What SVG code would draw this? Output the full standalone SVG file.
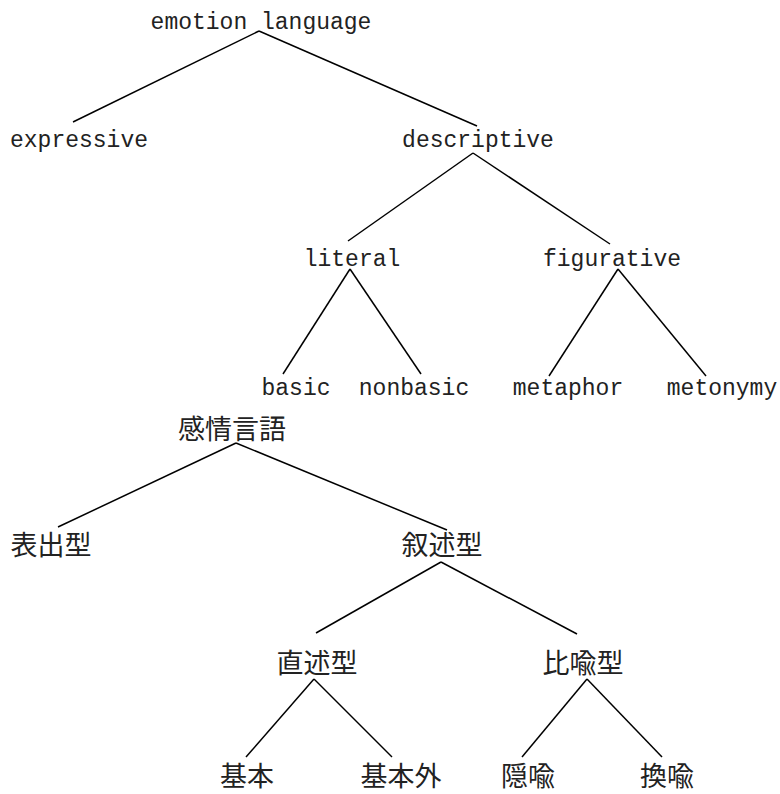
<svg xmlns="http://www.w3.org/2000/svg" width="780" height="794" viewBox="0 0 780 794">
<style>
.en{font-family:"Liberation Mono","DejaVu Sans Mono",monospace;font-size:23px;fill:#222;text-anchor:middle}
.ja{font-family:"Noto Sans CJK JP","Noto Sans CJK SC",sans-serif;font-size:27px;fill:#222;text-anchor:middle}
#connectors line{stroke:#000;stroke-width:1.5;fill:none}
</style>
<rect width="780" height="794" fill="#fff"/>
<g id="connectors">
<line x1="259" y1="31" x2="73" y2="122"/>
<line x1="259" y1="31" x2="477" y2="126"/>
<line x1="473" y1="153" x2="348" y2="241"/>
<line x1="473" y1="153" x2="610" y2="244"/>
<line x1="350" y1="269" x2="283" y2="374"/>
<line x1="350" y1="269" x2="421" y2="374"/>
<line x1="618" y1="269" x2="549" y2="376"/>
<line x1="618" y1="269" x2="706" y2="376"/>
<line x1="236" y1="443" x2="58" y2="527"/>
<line x1="236" y1="443" x2="447" y2="530"/>
<line x1="441" y1="562" x2="316" y2="633"/>
<line x1="441" y1="562" x2="577" y2="634"/>
<line x1="314" y1="679" x2="246" y2="757"/>
<line x1="314" y1="679" x2="392" y2="757"/>
<line x1="587" y1="679" x2="522" y2="757"/>
<line x1="587" y1="679" x2="662" y2="757"/>
</g>
<g id="n-emotion-language"><text class="en" x="261" y="29">emotion language</text></g>
<g id="n-expressive"><text class="en" x="79" y="147">expressive</text></g>
<g id="n-descriptive"><text class="en" x="478" y="147">descriptive</text></g>
<g id="n-literal"><text class="en" x="352" y="266">literal</text></g>
<g id="n-figurative"><text class="en" x="612" y="266">figurative</text></g>
<g id="n-basic"><text class="en" x="296" y="395">basic</text></g>
<g id="n-nonbasic"><text class="en" x="414" y="395">nonbasic</text></g>
<g id="n-metaphor"><text class="en" x="568" y="395">metaphor</text></g>
<g id="n-metonymy"><text class="en" x="722" y="395">metonymy</text></g>
<g id="n-kanjo-gengo"><text class="ja" x="232" y="439">感情言語</text></g>
<g id="n-hyoshutsu"><text class="ja" x="51" y="555">表出型</text></g>
<g id="n-jojutsu"><text class="ja" x="442" y="555">叙述型</text></g>
<g id="n-chokujutsu"><text class="ja" x="317" y="673">直述型</text></g>
<g id="n-hiyu"><text class="ja" x="583" y="673">比喩型</text></g>
<g id="n-kihon"><text class="ja" x="247" y="786">基本</text></g>
<g id="n-kihongai"><text class="ja" x="401" y="786">基本外</text></g>
<g id="n-inyu"><text class="ja" x="528" y="786">隠喩</text></g>
<g id="n-kanyu"><text class="ja" x="667" y="786">換喩</text></g>
</svg>
